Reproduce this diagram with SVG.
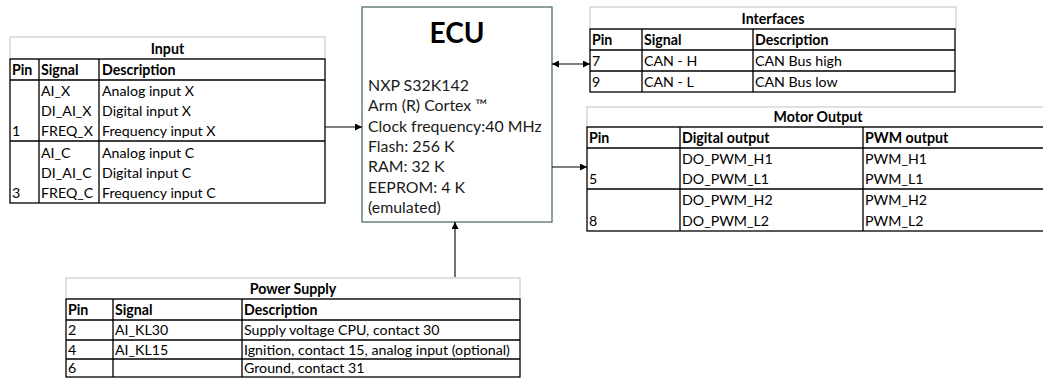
<svg xmlns="http://www.w3.org/2000/svg" width="1043" height="385" viewBox="0 0 1043 385">
<defs>
<style>
.t{font-family:Lato,"Liberation Sans",sans-serif;font-size:14.2px;fill:#000}
.b{font-weight:bold}
.c{text-anchor:middle}
.band{fill:#fff;stroke:#d6d6d6;stroke-width:1.5}
.grid{fill:none;stroke:#000;stroke-width:1.3}
.ecu{fill:#fff;stroke:#4f7060;stroke-width:1.3}
.et{font-family:Lato,"Liberation Sans",sans-serif;font-size:15.9px;fill:#1a1a1a}
.conn{stroke:#000;stroke-width:1.1;fill:none}
</style>
<marker id="ah" viewBox="0 0 10 10" refX="10" refY="5" markerWidth="8" markerHeight="7" markerUnits="userSpaceOnUse" orient="auto-start-reverse">
<path d="M0,0 L10,5 L0,10 z" fill="#000"/>
</marker>
</defs>
<rect width="1043" height="385" fill="#fff"/>

<g id="input">
<rect class="band" x="10" y="37" width="315" height="22"/>
<rect class="grid" x="10" y="59" width="315" height="144"/>
<path class="grid" d="M10,80H325M10,141H325M39,59V203M99,59V203"/>
<text class="t b c" x="167.5" y="54">Input</text>
<text class="t b" x="12" y="75">Pin</text>
<text class="t b" x="41" y="75">Signal</text>
<text class="t b" x="102" y="75">Description</text>
<text class="t" x="41" y="95.5">AI_X</text>
<text class="t" x="102" y="95.5">Analog input X</text>
<text class="t" x="41" y="116">DI_AI_X</text>
<text class="t" x="102" y="116">Digital input X</text>
<text class="t" x="12" y="136">1</text>
<text class="t" x="41" y="136">FREQ_X</text>
<text class="t" x="102" y="136">Frequency input X</text>
<text class="t" x="41" y="157.5">AI_C</text>
<text class="t" x="102" y="157.5">Analog input C</text>
<text class="t" x="41" y="178">DI_AI_C</text>
<text class="t" x="102" y="178">Digital input C</text>
<text class="t" x="12" y="198">3</text>
<text class="t" x="41" y="198">FREQ_C</text>
<text class="t" x="102" y="198">Frequency input C</text>
</g>

<g id="ecu">
<rect class="ecu" x="362" y="7" width="190" height="215"/>
<text x="457" y="43" text-anchor="middle" font-family="Lato,'Liberation Sans',sans-serif" font-size="28" font-weight="bold" fill="#000">ECU</text>
<text class="et" x="368" y="91">NXP S32K142</text>
<text class="et" x="368" y="111.3">Arm (R) Cortex ™</text>
<text class="et" x="368" y="131.6">Clock frequency:40 MHz</text>
<text class="et" x="368" y="151.9">Flash: 256 K</text>
<text class="et" x="368" y="172.2">RAM: 32 K</text>
<text class="et" x="368" y="192.5">EEPROM: 4 K</text>
<text class="et" x="368" y="212.8">(emulated)</text>
</g>

<g id="interfaces">
<rect class="band" x="590" y="7" width="366" height="22"/>
<rect class="grid" x="590" y="29" width="365" height="63"/>
<path class="grid" d="M590,50H955M590,71H955M642,29V92M753,29V92"/>
<text class="t b c" x="773" y="24">Interfaces</text>
<text class="t b" x="592" y="45">Pin</text>
<text class="t b" x="644" y="45">Signal</text>
<text class="t b" x="755" y="45">Description</text>
<text class="t" x="592" y="66">7</text>
<text class="t" x="644" y="66">CAN - H</text>
<text class="t" x="755" y="66">CAN Bus high</text>
<text class="t" x="592" y="87">9</text>
<text class="t" x="644" y="87">CAN - L</text>
<text class="t" x="755" y="87">CAN Bus low</text>
</g>

<g id="motor-output">
<rect class="band" x="587" y="107" width="470" height="20"/>
<rect class="grid" x="587" y="127" width="470" height="104"/>
<path class="grid" d="M587,148H1057M587,189H1057M680,127V231M863,127V231"/>
<text class="t b c" x="818" y="122">Motor Output</text>
<text class="t b" x="589" y="143">Pin</text>
<text class="t b" x="682" y="143">Digital output</text>
<text class="t b" x="865" y="143">PWM output</text>
<text class="t" x="682" y="163.5">DO_PWM_H1</text>
<text class="t" x="865" y="163.5">PWM_H1</text>
<text class="t" x="589" y="184">5</text>
<text class="t" x="682" y="184">DO_PWM_L1</text>
<text class="t" x="865" y="184">PWM_L1</text>
<text class="t" x="682" y="205">DO_PWM_H2</text>
<text class="t" x="865" y="205">PWM_H2</text>
<text class="t" x="589" y="226">8</text>
<text class="t" x="682" y="226">DO_PWM_L2</text>
<text class="t" x="865" y="226">PWM_L2</text>
</g>

<g id="power-supply">
<rect class="band" x="66" y="278" width="454" height="21"/>
<rect class="grid" x="66" y="299" width="454" height="78"/>
<path class="grid" d="M66,320H520M66,340H520M66,359H520M113,299V377M242,299V377"/>
<text class="t b c" x="293" y="294">Power Supply</text>
<text class="t b" x="68" y="315">Pin</text>
<text class="t b" x="115" y="315">Signal</text>
<text class="t b" x="244" y="315">Description</text>
<text class="t" x="68" y="335">2</text>
<text class="t" x="115" y="335">AI_KL30</text>
<text class="t" x="244" y="335">Supply voltage CPU, contact 30</text>
<text class="t" x="68" y="354.5">4</text>
<text class="t" x="115" y="354.5">AI_KL15</text>
<text class="t" x="244" y="354.5">Ignition, contact 15, analog input (optional)</text>
<text class="t" x="68" y="373">6</text>
<text class="t" x="244" y="373">Ground, contact 31</text>
</g>

<g id="connectors">
<path class="conn" d="M325,127H362" marker-end="url(#ah)"/>
<path class="conn" d="M552,64H590" marker-start="url(#ah)" marker-end="url(#ah)"/>
<path class="conn" d="M552,167H587" marker-end="url(#ah)"/>
<path class="conn" d="M455,277V222" marker-end="url(#ah)"/>
</g>
</svg>
